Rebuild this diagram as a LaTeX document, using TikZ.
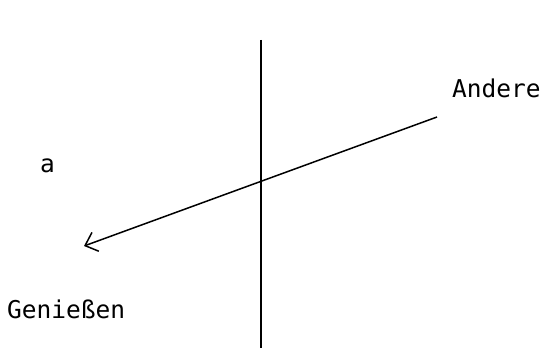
\documentclass[tikz,border=0pt]{standalone}
\usepackage{fontspec}
\setmonofont{DejaVu Sans Mono}
\usetikzlibrary{arrows.meta,positioning}
\tikzset{
  lbl/.style={font=\ttfamily\fontsize{24.5}{28}\selectfont,inner sep=0pt,anchor=base west},
  axis/.style={line width=1.8pt},
  pointer/.style={line width=1.5pt,-{Straight Barb[length=11pt,width=20pt,line width=1.5pt]}}
}
\begin{document}
\begin{tikzpicture}[x=1pt,y=-1pt]
  \useasboundingbox (0,0) rectangle (543,350);
  \coordinate (top) at (261,40);
  \coordinate (bottom) at (261,348);
  \coordinate (start) at (437,117);
  \coordinate (tip) at (84,246);
  \draw[axis] (top) -- (bottom);
  \draw[pointer] (start) -- (tip);
  \node[lbl] (andere) at (452,98) {Andere};
  \node[lbl] (a) at (40,172) {a};
  \node[lbl] (geniessen) at (7,318) {Genießen};
\end{tikzpicture}
\end{document}
